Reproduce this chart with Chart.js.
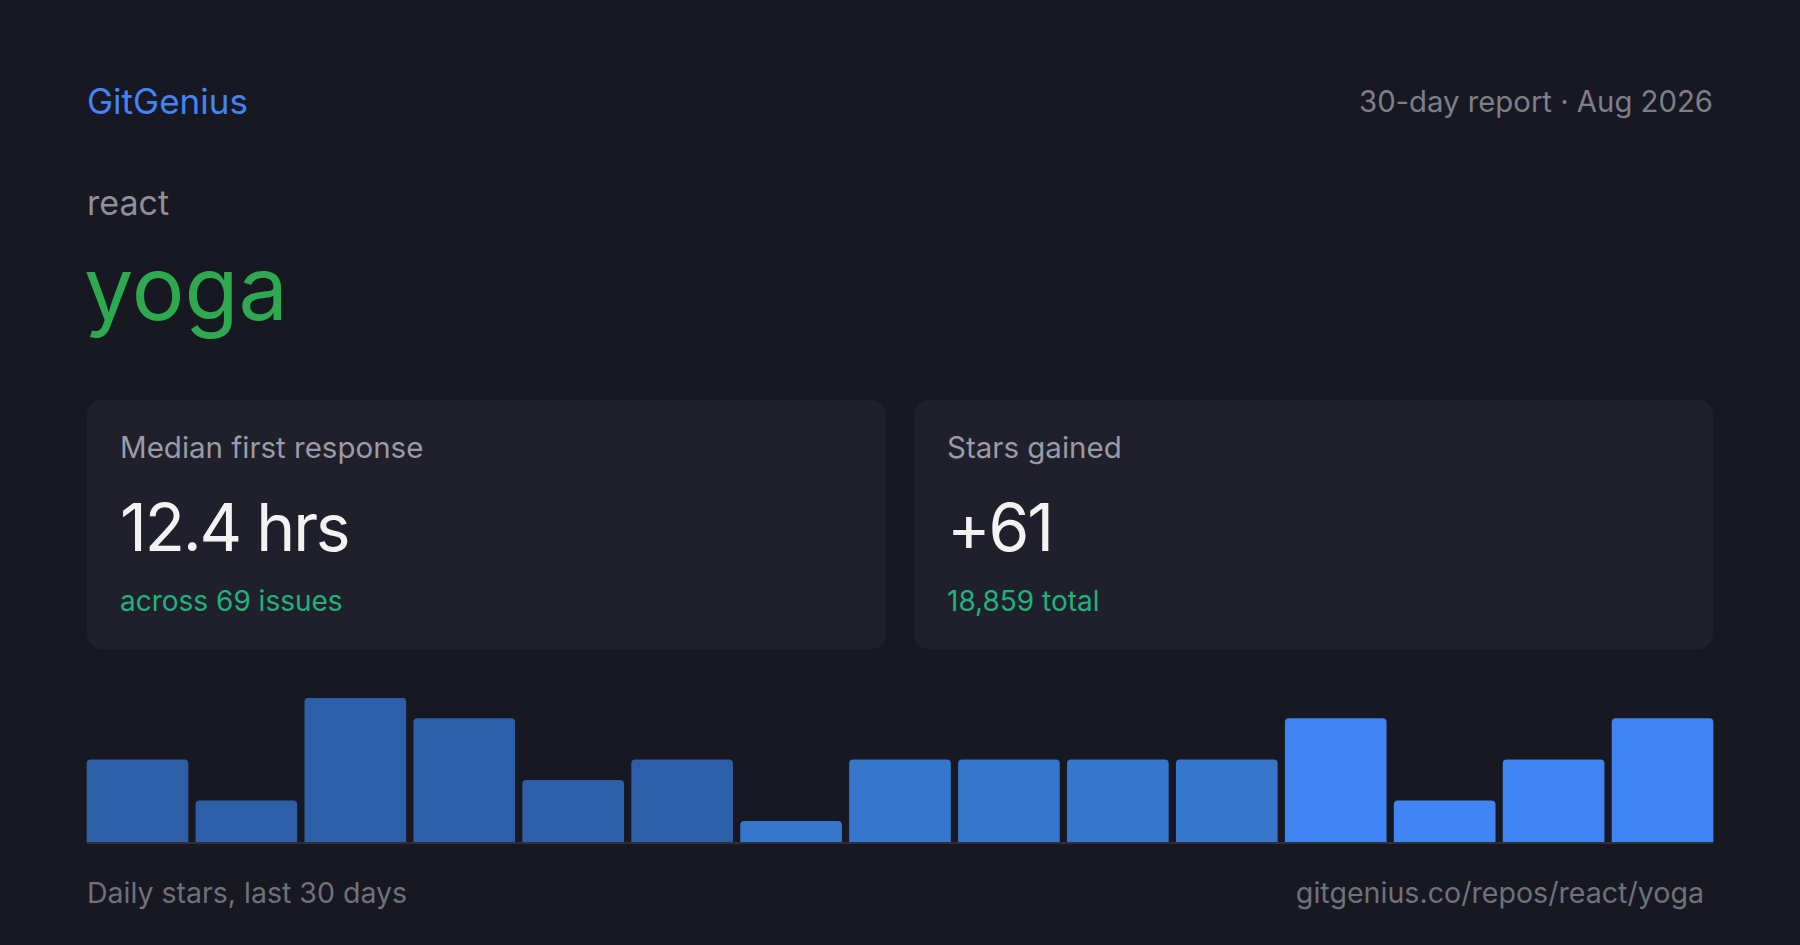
<!DOCTYPE html>
<html>
<head>
<meta charset="utf-8">
<script src="https://cdn.jsdelivr.net/npm/chart.js@4"></script>
<style>
  html, body { margin: 0; padding: 0; }
  body { width: 1800px; height: 945px; background: #171821; position: relative; overflow: hidden; font-family: Inter, "Noto Sans", sans-serif; }
  .t { position: absolute; line-height: 1; white-space: nowrap; }
  .card { position: absolute; top: 400px; width: 799px; height: 249px; background: #1f202b; border-radius: 14px; }
  .lbl { left: 33px; top: 33px; font-size: 29.5px; color: #9a9ba5; }
  .val { left: 33px; top: 94px; font-size: 66px; letter-spacing: -2.2px; color: #f3f3f1; }
  .sub { left: 33px; top: 187px; font-size: 28px; color: #1fb27d; }
  #wrap { position: absolute; left: 83px; top: 698px; width: 1634px; height: 144px; }
  #base { position: absolute; left: 87px; top: 842px; width: 1626px; height: 2px; background: #2e2f3b; }
</style>
</head>
<body>
<div class="t" style="left:87px; top:84px; font-size:35px; color:#4285f4;">GitGenius</div>
<div class="t" style="right:87px; top:87px; font-size:29.3px; color:#7d7f89;">30-day report · Aug 2026</div>
<div class="t" style="left:87px; top:186px; font-size:34px; color:#8e8f99;">react</div>
<div class="t" style="left:84px; top:244px; font-size:88px; color:#2ea94f;">yoga</div>

<div class="card" style="left:87px;">
  <div class="t lbl">Median first response</div>
  <div class="t val">12.4 hrs</div>
  <div class="t sub">across 69 issues</div>
</div>
<div class="card" style="left:914px;">
  <div class="t lbl">Stars gained</div>
  <div class="t val">+61</div>
  <div class="t sub">18,859 total</div>
</div>

<div id="wrap"><canvas id="bars"></canvas></div>
<div id="base"></div>

<div class="t" style="left:87px; top:879px; font-size:28.5px; color:#6f717b;">Daily stars, last 30 days</div>
<div class="t" style="right:96px; top:879px; font-size:28.6px; color:#6f717b;">gitgenius.co/repos/react/yoga</div>

<script>
// 15 buckets (2 days each) of stars gained
const buckets = ['1', '2', '3', '4', '5', '6', '7', '8', '9', '10', '11', '12', '13', '14', '15']
const stars = [4, 2, 7, 6, 3, 4, 1, 4, 4, 4, 4, 6, 2, 4, 6]
const yMax = 7

// older buckets darker, newest brightest
const barColors = buckets.map(function (b, i) {
    if (i < 6) return '#2d5fa8'
    if (i < 11) return '#3677cb'
    return '#4084f4'
})

const data = {
    labels: buckets,
    datasets: [{
        label: 'Daily stars',
        data: stars,
        backgroundColor: barColors,
        borderRadius: 4,
        barThickness: 101,
        categoryPercentage: 1,
        barPercentage: 1
    }]
}

const config = {
    type: 'bar',
    data: data,
    options: {
        responsive: true,
        maintainAspectRatio: false,
        animation: false,
        layout: { padding: 0 },
        plugins: { legend: { display: false }, tooltip: { enabled: false } },
        scales: {
            x: { display: false },
            y: { display: false, min: 0, max: yMax }
        }
    }
}

var barChart = new Chart(
    document.getElementById('bars'),
    config
)
</script>
</body>
</html>
